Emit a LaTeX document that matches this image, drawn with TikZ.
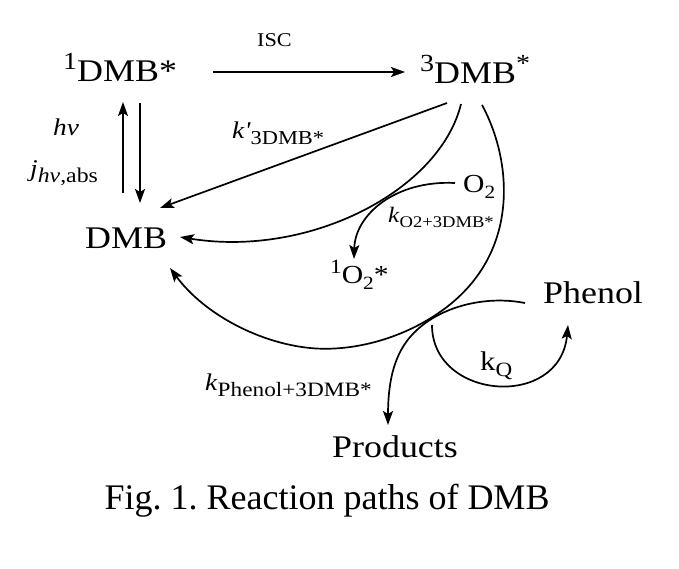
\documentclass[tikz,border=0pt]{standalone}
\usepackage{fontspec}
\setmainfont{Liberation Serif}
\newfontfamily\nomap{Liberation Serif}[Ligatures=TeXOff]
\usetikzlibrary{arrows.meta}
\newcommand{\sx}[1]{\scalebox{1.14}[1]{#1}}
\newcommand{\sups}[1]{\raisebox{0.36em}{\scalebox{0.78}{#1}}}
\newcommand{\subs}[2][0.72]{\raisebox{-0.25em}{\scalebox{#1}{#2}}}
\newcommand{\fs}[1]{\fontsize{#1}{#1}\selectfont}
\tikzset{
  lbl/.style={inner sep=0pt, anchor=base west},
  big/.style={lbl, font=\fs{31.5}},
  mid/.style={lbl, font=\fs{26}},
  rate/.style={lbl, font=\fs{24}},
  arr/.style={line width=1.7pt, -{Stealth[length=14pt,width=10pt,inset=3pt]}},
}
\begin{document}
\frenchspacing
\begin{tikzpicture}[x=1pt,y=-1pt]
\useasboundingbox (0,0) rectangle (679,568);
% labels
\node[big] (s1) at (63,81) {\sx{\sups{1}DMB*}};
\node[big] (t3) at (420,83) {\sx{\sups{3}DMB\sups{*}}};
\node[lbl, font=\fs{19.5}] (isc) at (257,46) {\sx{ISC}};
\node[big] (dmb) at (85,248) {\sx{DMB}};
\node[mid] (o2) at (463,192) {\sx{O\subs{2}}};
\node[mid] (so2) at (330,283) {\sx{\sups{1}O\subs{2}*}};
\node[big] (phenol) at (543,303) {\sx{Phenol}};
\node[big] (products) at (332,457) {\sx{Products}};
\node[rate] (hv) at (53,135) {\sx{\textit{hv}}};
\node[rate] (jl) at (30,176) {\sx{\textit{j}\subs[0.87]{\textit{hv},abs}}};
\node[rate] (kp) at (232,138) {\sx{\textit{k}{\nomap\itshape '}\subs[0.82]{3DMB*}}};
\node[lbl, font=\fs{22}] (ko2) at (388,222) {\sx{\textit{k}\subs[0.74]{O2+3DMB*}}};
\node[rate] (kph) at (205,390) {\sx{\textit{k}\subs[0.85]{Phenol+3DMB*}}};
\node[lbl, font=\fs{27}] (kq) at (480,370) {\sx{k\subs[0.75]{Q}}};
\node[inner sep=0pt, anchor=base, font=\fs{36}] (cap) at (327,509) {Fig. 1. Reaction paths of DMB};
% endpoints
\coordinate (upA) at (123,193); \coordinate (upB) at (123,102);
\coordinate (dnA) at (140,103); \coordinate (dnB) at (140,203);
\coordinate (iscA) at (213,72); \coordinate (iscB) at (405,72);
\coordinate (stA) at (447,103); \coordinate (stB) at (160,208);
\coordinate (mcA) at (461,104); \coordinate (mcB) at (180,237);
\coordinate (oA) at (455,183); \coordinate (oB) at (354,259);
\coordinate (baA) at (482,105); \coordinate (baX) at (440,312); \coordinate (baY) at (310,348); \coordinate (baB) at (170,268);
\coordinate (phA) at (525,303); \coordinate (phX) at (433,318); \coordinate (phB) at (388,425);
\coordinate (kqA) at (432,325); \coordinate (kqB) at (568,325);
% connectors
\draw[arr] (upA) -- (upB);
\draw[arr] (dnA) -- (dnB);
\draw[arr] (iscA) -- (iscB);
\draw[arr] (stA) -- (stB);
\draw[arr] (mcA) .. controls (440,190) and (310,258) .. (mcB);
\draw[arr] (oA) .. controls (395,180) and (355,215) .. (oB);
\draw[arr] (baA) .. controls (512,160) and (522,255) .. (baX)
  .. controls (400,340) and (350,352) .. (baY)
  .. controls (260,343) and (205,315) .. (baB);
\draw[arr] (phA) .. controls (495,297) and (460,302) .. (phX)
  .. controls (405,335) and (388,360) .. (phB);
\draw[arr] (kqA) .. controls (432,400) and (560,410) .. (kqB);
\end{tikzpicture}
\end{document}
